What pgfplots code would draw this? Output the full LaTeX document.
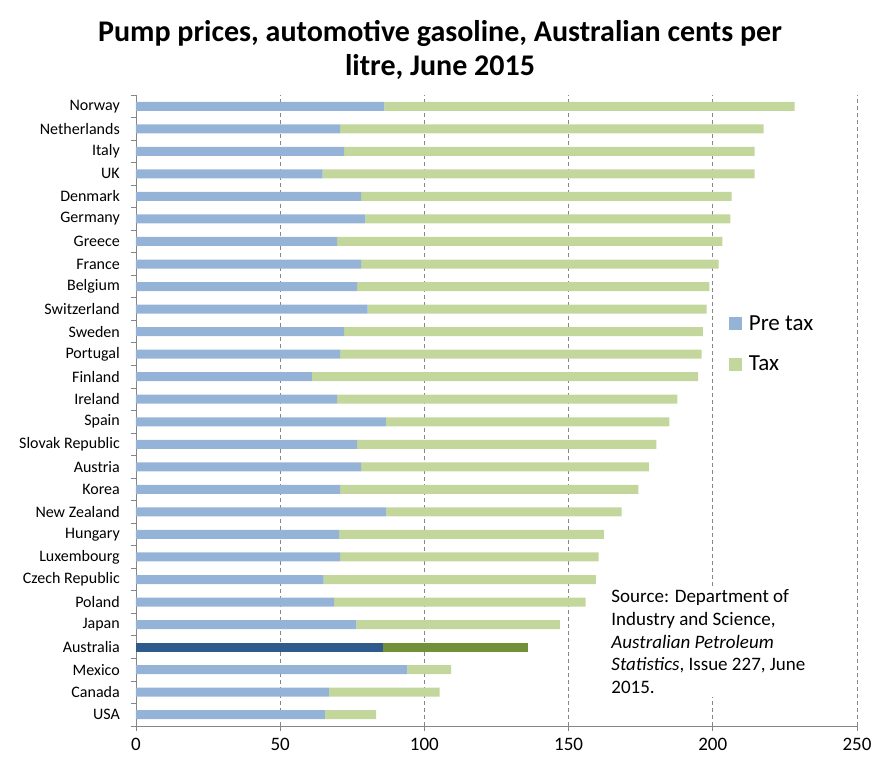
\documentclass[border=0pt]{standalone}
\usepackage{pgfplots}
\usepackage{pgfplotstable}
\pgfplotsset{compat=1.18}
\usepackage{fontspec}
\setmainfont{Carlito}
\definecolor{pre}{HTML}{95B3D7}
\definecolor{tax}{HTML}{C3D69B}
\definecolor{apre}{HTML}{2E5A8C}
\definecolor{atax}{HTML}{728F3A}
\definecolor{axgray}{HTML}{868686}
\pgfplotstableread[col sep=comma]{
y,name,pre,tax,apre,atax
0,USA,65.5,17.8,0,0
1,Canada,66.9,38.4,0,0
2,Mexico,94.1,15.2,0,0
3,Australia,0,0,85.6,50.2
4,Japan,76.4,70.6,0,0
5,Poland,68.7,87.2,0,0
6,Czech Republic,65.1,94.4,0,0
7,Luxembourg,70.8,89.6,0,0
8,Hungary,70.4,91.8,0,0
9,New Zealand,86.6,81.8,0,0
10,Korea,70.8,103.4,0,0
11,Austria,78.1,99.7,0,0
12,Slovak Republic,76.7,103.7,0,0
13,Spain,86.6,98.3,0,0
14,Ireland,69.7,118.0,0,0
15,Finland,61.0,133.9,0,0
16,Portugal,70.8,125.3,0,0
17,Sweden,72.2,124.4,0,0
18,Switzerland,80.3,117.6,0,0
19,Belgium,76.7,122.1,0,0
20,France,78.1,123.9,0,0
21,Greece,69.7,133.6,0,0
22,Germany,79.5,126.6,0,0
23,Denmark,78.1,128.4,0,0
24,UK,64.7,149.8,0,0
25,Italy,72.2,142.3,0,0
26,Netherlands,70.8,146.8,0,0
27,Norway,86.1,142.3,0,0
}\data
\begin{document}
\begin{tikzpicture}
\begin{axis}[
  scale only axis,
  width=721pt, height=631pt,
  xbar stacked,
  bar width=9pt,
  xmin=0, xmax=250,
  ymin=-0.5, ymax=27.5,
  xtick={0,50,...,250},
  ytick={0,...,27},
  yticklabels from table={\data}{name},
  minor ytick={-0.5,0.5,...,27.5},
  axis x line*=bottom,
  axis y line*=left,
  axis line style={axgray, line width=0.8pt},
  tick align=outside,
  major tick length=5pt,
  minor tick length=5pt,
  tick style={axgray, line width=0.8pt},
  major y tick style={draw=none},
  xmajorgrids,
  major grid style={axgray, dash pattern=on 4pt off 3pt, line width=0.8pt},
  /pgf/number format/assume math mode=true,
  yticklabel style={font=\fontsize{16}{18}\selectfont, inner sep=0pt, xshift=-11pt},
  xticklabel style={font=\fontsize{19}{21}\selectfont, inner sep=0pt, yshift=-7pt},
  legend style={draw=none, fill=none, at={(0.822,0.652)}, anchor=north west,
    font=\fontsize{23}{27}\selectfont, row sep=22pt, inner sep=0pt,
    nodes={inner sep=1pt}},
  legend cell align=left,
  legend image code/.code={\fill[#1] (0pt,-6.5pt) rectangle (13pt,6.5pt); \path (19pt,0pt);},
]
\addplot[fill=pre, draw=none] table[x=pre, y=y] {\data};
\addplot[fill=tax, draw=none] table[x=tax, y=y] {\data};
\addplot[fill=apre, draw=none] table[x=apre, y=y] {\data};
\addplot[fill=atax, draw=none] table[x=atax, y=y] {\data};
\legend{Pre tax, Tax}
\node[anchor=north west, fill=white, inner sep=3pt, align=left,
  font=\fontsize{19}{22.7}\selectfont] at (rel axis cs:0.655,0.221)
  {Source: Department of\\Industry and Science,\\\textit{Australian Petroleum}\\\textit{Statistics}, Issue 227, June\\2015.};
\end{axis}
\node[font=\bfseries\fontsize{30}{34}\selectfont, align=center]
  at ([xshift=304pt, yshift=45pt]current axis.north west)
  {Pump prices, automotive gasoline, Australian cents per\\litre, June 2015};
\path ([xshift=-136pt,yshift=-33pt]current axis.south west) rectangle ([xshift=16pt,yshift=95pt]current axis.north east);
\end{tikzpicture}
\end{document}
